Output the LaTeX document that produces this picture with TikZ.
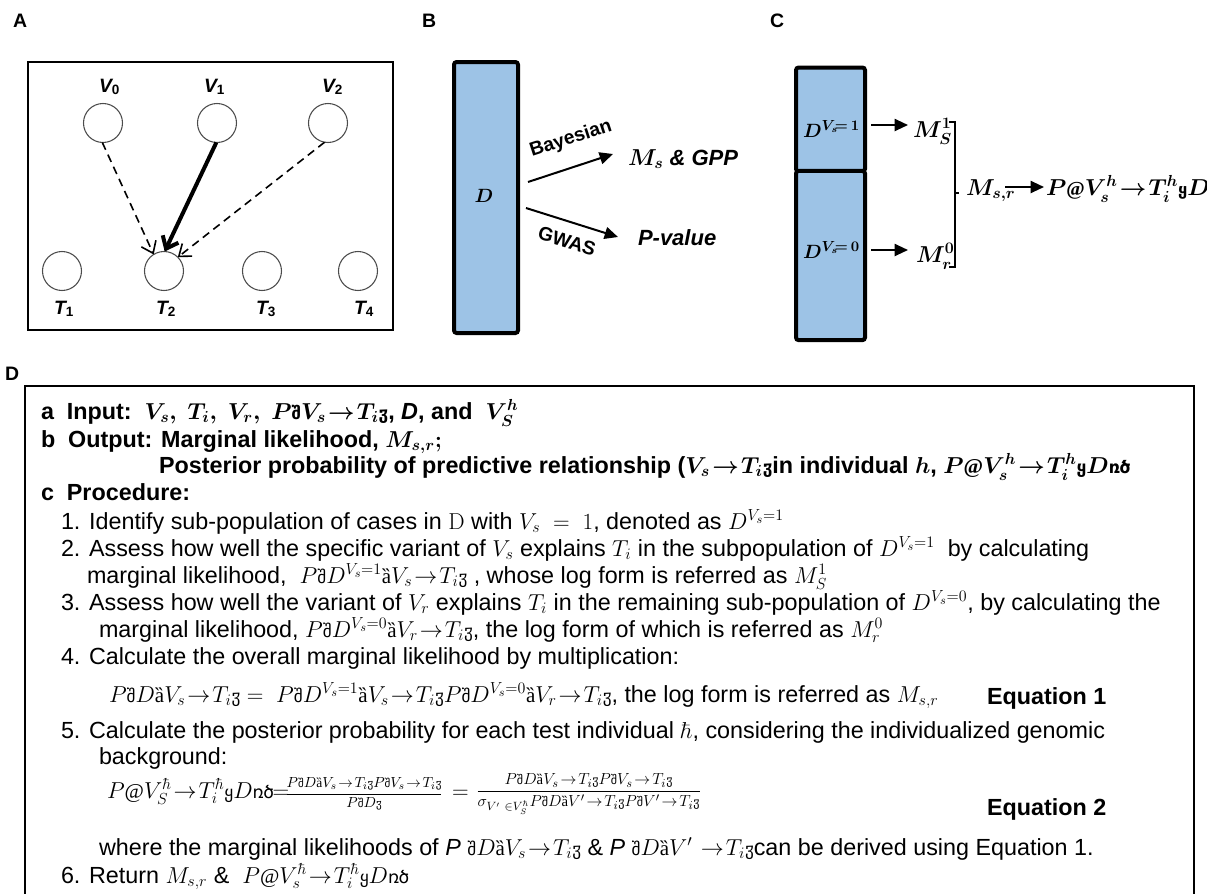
\documentclass[tikz,border=0pt]{standalone}
\usepackage{amsmath}
\usepackage[no-math]{fontspec}
\setmainfont{Liberation Sans}
\newfontfamily\dv[Scale=0.74]{DejaVu Sans}
\newfontfamily\lserif[Scale=0.9]{Liberation Serif}
\usetikzlibrary{arrows.meta}
\definecolor{boxblue}{RGB}{157,195,230}
% garbled glyphs as printed in the figure
\newcommand\gL{\mbox{\dv შ}}
\newcommand\gR{\mbox{\dv ჳ}}
\newcommand\gB{\mbox{\lserif ȁ}}
\newcommand\bL{\mbox{\lserif @}}
\newcommand\bB{\mbox{\dv ყ}}
\newcommand\bR{\mbox{\dv ռ\kern-0.5pt ծ}}
\newcommand\ra{\mkern1.5mu\mathord{\to}\mkern1.5mu}
\newcommand\bmt[1]{{\boldmath #1}}
\tikzset{
  every node/.style={inner sep=0pt, outer sep=0pt},
  plabel/.style={anchor=base west, font=\fontsize{14.6}{17}\selectfont\bfseries},
  vnode/.style={circle, draw=black!70, line width=0.8pt, minimum size=29.25pt},
  vlab/.style={anchor=base west, font=\fontsize{14.5}{17}\selectfont\bfseries\itshape},
  dasharrow/.style={dashed, dash pattern=on 6pt off 4pt, line width=1.2pt, -{Straight Barb[length=8pt,width=12pt]}},
  bigarrow/.style={line width=3pt, -{Straight Barb[length=8pt,width=13pt]}},
  bluebox/.style={draw, line width=3pt, rounded corners=2pt, fill=boxblue},
  barrow/.style={line width=1.5pt, -{Triangle[length=10pt,width=9pt]}},
  dtext/.style={anchor=base west, font=\fontsize{17.5}{20}\selectfont},
  dbold/.style={anchor=base west, font=\fontsize{17.5}{20}\selectfont\bfseries},
  frac/.style={anchor=west, font=\fontsize{11.3}{12}\selectfont},
}
\begin{document}
\begin{tikzpicture}[x=0.75pt, y=-0.75pt]
\fill[white] (0,0) rectangle (1207,893);
\clip (0,0) rectangle (1207,893);

% ---------- panel labels
\node[plabel] (LA) at (13,27) {A};
\node[plabel] (LB) at (422,27) {B};
\node[plabel] (LC) at (770,27) {C};
\node[plabel] (LD) at (5,380) {D};

% ---------- panel A
\draw[line width=1.5pt] (28,62) rectangle (393,330);
\node[vnode] (V0) at (103,123) {};
\node[vnode] (V1) at (217,123) {};
\node[vnode] (V2) at (328,123) {};
\node[vnode] (T1) at (62,271) {};
\node[vnode] (T2) at (164,271) {};
\node[vnode] (T3) at (262,271) {};
\node[vnode] (T4) at (358,271) {};
\node[vlab] (lV0) at (99,92) {V\textsubscript{\upshape 0}};
\node[vlab] (lV1) at (204,92) {V\textsubscript{\upshape 1}};
\node[vlab] (lV2) at (322,92) {V\textsubscript{\upshape 2}};
\node[vlab] (lT1) at (54,314) {T\textsubscript{\upshape 1}};
\node[vlab] (lT2) at (156,314) {T\textsubscript{\upshape 2}};
\node[vlab] (lT3) at (256,314) {T\textsubscript{\upshape 3}};
\node[vlab] (lT4) at (354,314) {T\textsubscript{\upshape 4}};
\draw[dasharrow] (V0.-92) -- (T2.122);
\draw[bigarrow] (V1.-92) -- (T2.88);
\draw[dasharrow] (V2.-100) -- (T2.45);

% ---------- panel B
\node[bluebox, minimum width=48pt, minimum height=203.25pt] (Bbox) at (486,197.5) {};
\node[anchor=base, font=\fontsize{15}{18}\selectfont] (BD) at (484,202) {\bmt{$D$}};
\coordinate (ba1) at (528,182);
\coordinate (ba2) at (613,154);
\coordinate (bg1) at (526,208);
\coordinate (bg2) at (618,237);
\draw[barrow] (ba1) -- (ba2);
\draw[barrow] (bg1) -- (bg2);
\node[font=\fontsize{14.5}{17}\selectfont\bfseries, rotate=18] (bay) at (571,139) {Bayesian};
\node[font=\fontsize{14.5}{17}\selectfont\bfseries, rotate=-17] (gwas) at (567,241) {GWAS};
\node[anchor=base west, font=\fontsize{16.5}{19}\selectfont\bfseries\itshape] (msgpp) at (628,165) {\bmt{$M_s$} \& GPP};
\node[anchor=base west, font=\fontsize{16.5}{19}\selectfont\bfseries\itshape] (pval) at (638,245) {P-value};

% ---------- panel C
\node[bluebox, minimum width=51.75pt, minimum height=78pt] (Cup) at (830.5,119.5) {};
\node[bluebox, minimum width=51.75pt, minimum height=127pt] (Clow) at (830.5,255.5) {};
\node[anchor=base west, font=\fontsize{15}{18}\selectfont\bfseries] (cd1) at (803,137) {\bmt{$D^{V_s\!=\,1}$}};
\node[anchor=base west, font=\fontsize{15}{18}\selectfont\bfseries] (cd0) at (803,258) {\bmt{$D^{V_s\!=\,0}$}};
\coordinate (ca1) at (871,125);
\coordinate (ca2) at (908,125);
\coordinate (cb1) at (871,250);
\coordinate (cb2) at (908,250);
\draw[barrow] (ca1) -- (ca2);
\draw[barrow] (cb1) -- (cb2);
\node[anchor=base west, font=\fontsize{16.5}{19}\selectfont] (cm1) at (913,137) {\bmt{$M_S^1$}};
\node[anchor=base west, font=\fontsize{16.5}{19}\selectfont] (cm0) at (916,262) {\bmt{$M_r^0$}};
\draw[line width=1.3pt] (949,122) -- (955,122) -- (955,267) -- (949,267);
\draw[line width=1.3pt] (955,193) -- (959,193);
\node[anchor=base west, font=\fontsize{16.5}{19}\selectfont] (cmsr) at (966,195) {\bmt{$M_{s,r}$}};
\coordinate (cc1) at (1005,187);
\coordinate (cc2) at (1044,187);
\draw[barrow] (cc1) -- (cc2);
\node[anchor=base west, font=\fontsize{16.5}{19}\selectfont\bfseries] (cpost) at (1046,195) {\bmt{$P$\bL$V^h_s\ra T^h_i$\bB$D$\bR}};

% ---------- panel D
\draw[line width=1.5pt] (25,940) -- (25,386) -- (1194,386) -- (1194,940);
\node[dbold] (la) at (41,419) {\bmt{a\ \ Input:\ \ $V_s,\ T_i,\ V_r,\ P\gL V_s\ra T_i\gR$, \textit{D}, and\ \ $V^h_S$}};
\node[dbold] (lb) at (41,447) {\bmt{b\ \ Output: Marginal likelihood, $M_{s,r};$}};
\node[dbold] (lb2) at (159,473) {\bmt{Posterior probability of predictive relationship ($V_s\ra T_i$\gR in individual $h$, $P$\bL$V^h_s\ra T^h_i$\bB$D$\bR}};
\node[dbold] (lc) at (41,500) {c\ \ Procedure:};
\node[dtext] (i1) at (61,529) {1. Identify sub-population of cases in $\mathrm{D}$ with $V_s\ =\ 1$, denoted as $D^{V_s=1}$};
\node[dtext] (i2) at (61,556) {2. Assess how well the specific variant of $V_s$ explains $T_i$ in the subpopulation of $D^{V_s=1}$\ \ by calculating};
\node[dtext] (i2b) at (87,583) {marginal likelihood,\ \ $P\gL D^{V_s=1}\gB V_s\ra T_i\gR$\ , whose log form is referred as $M_S^1$};
\node[dtext] (i3) at (61,610) {3. Assess how well the variant of $V_r$ explains $T_i$ in the remaining sub-population of $D^{V_s=0}$, by calculating the};
\node[dtext] (i3b) at (99,637) {marginal likelihood, $P\gL D^{V_s=0}\gB V_r\ra T_i\gR$, the log form of which is referred as $M_r^0$};
\node[dtext] (i4) at (61,664) {4. Calculate the overall marginal likelihood by multiplication:};
\node[dtext] (i4b) at (109,702) {$P\gL D\gB V_s\ra T_i\gR=\ P\gL D^{V_s=1}\gB V_s\ra T_i\gR P\gL D^{V_s=0}\gB V_r\ra T_i\gR$, the log form is referred as $M_{s,r}$};
\node[dbold] (eq1) at (987,704) {Equation 1};
\node[dtext] (i5) at (61,738) {5. Calculate the posterior probability for each test individual $\hbar$, considering the individualized genomic};
\node[dtext] (i5b) at (99,764) {background:};
\node[dtext] (i5c) at (107,798) {$P\bL V^\hbar_S\ra T^\hbar_i\bB D\bR\!\!=$};
\node[frac] (fr1) at (285,794) {$\displaystyle\frac{P\gL D\gB V_s\!\to\! T_i\gR P\gL V_s\!\to\! T_i\gR}{P\gL D\gR}$};
\node[anchor=west, font=\fontsize{17.5}{20}\selectfont] (eqs) at (452,794) {$=$};
\node[frac, font=\fontsize{12.3}{13}\selectfont] (fr2) at (476,794) {$\displaystyle\frac{P\gL D\gB V_s\!\to\! T_i\gR P\gL V_s\!\to\! T_i\gR}{\sigma_{V'\ \in V^\hbar_S} P\gL D\gB V'\!\to\! T_i\gR P\gL V'\!\to\! T_i\gR}$};
\node[dbold] (eq2) at (987,815) {Equation 2};
\node[dtext] (i5d) at (99,855) {where the marginal likelihoods of \textit{P} $\gL D\gB V_s\ra T_i\gR$ \& \textit{P} $\gL D\gB V'\ \ra T_i\gR$can be derived using Equation 1.};
\node[dtext] (i6) at (61,883) {6. Return $M_{s,r}$ \&\ \ $P\bL V^\hbar_s\ra T^\hbar_i\bB D\bR$};
\end{tikzpicture}
\end{document}
